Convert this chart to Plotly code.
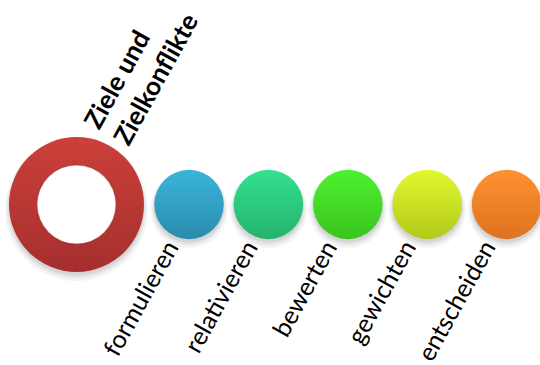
import plotly.graph_objects as go

# ---- data ----
title_text = "Ziele und<br>Zielkonflikte"
steps = ["formulieren", "relativieren", "bewerten", "gewichten", "entscheiden"]
step_index = [1, 2, 3, 4, 5]
top_colors = ["#3AB5DA", "#33E190", "#4CF22D", "#DFF92B", "#FF922F"]
bottom_colors = ["#2A8BAC", "#25B26D", "#3BC420", "#B3C81D", "#DD7221"]
ring_top, ring_bottom = "#CC403A", "#A52F2E"

# ---- layout constants (pixels / axis units) ----
W, H = 540, 365
ring_x = -0.417
cy = 204.5
d_small = 69.5
d_ring, d_hole = 135, 79
FONT = "Lato, 'Open Sans', sans-serif"
PX = 79.4  # pixels per step

fig = go.Figure()

# soft shadows
for dy, grow, a in [(5, 8, 0.06), (4, 4, 0.08), (3, 1, 0.10)]:
    fig.add_trace(go.Scatter(
        x=[ring_x] + step_index, y=[cy + dy] * (len(step_index) + 1), mode="markers",
        marker=dict(size=[d_ring + grow] + [d_small + grow] * len(step_index),
                    color=f"rgba(0,0,0,{a})", line=dict(width=0)),
        hoverinfo="skip", showlegend=False))

# ring
fig.add_trace(go.Scatter(
    x=[ring_x], y=[cy], mode="markers",
    marker=dict(size=d_ring, color=ring_top, line=dict(width=0),
                gradient=dict(type="vertical", color=ring_bottom)),
    hoverinfo="skip", showlegend=False))
fig.add_trace(go.Scatter(
    x=[ring_x], y=[cy], mode="markers",
    marker=dict(size=d_hole, color="white", line=dict(width=1.5, color="rgba(150,40,40,0.35)")),
    hoverinfo="skip", showlegend=False))

# step circles
fig.add_trace(go.Scatter(
    x=step_index, y=[cy] * len(step_index), mode="markers",
    marker=dict(size=d_small, color=top_colors, line=dict(width=0),
                gradient=dict(type="vertical", color=bottom_colors)),
    hoverinfo="skip", showlegend=False))

annotations = []
for xi, s in zip(step_index, steps):
    annotations.append(dict(
        x=xi - 3 / PX, y=232, xref="x", yref="y", text=s, showarrow=False,
        textangle=-61, xanchor="right", yanchor="top",
        font=dict(family=FONT, size=25, color="black")))

annotations.append(dict(
    x=ring_x + 0.1 - 11 / PX, y=153, xref="x", yref="y", text=f"<b>{title_text}</b>", showarrow=False,
    textangle=-61, xanchor="left", yanchor="bottom", align="left",
    font=dict(family=FONT, size=26, color="black")))

x0 = 1 - 189 / PX
x1 = 1 + (W - 189) / PX
fig.update_layout(
    width=W, height=H, margin=dict(l=0, r=0, t=0, b=0),
    paper_bgcolor="white", plot_bgcolor="white",
    xaxis=dict(range=[x0, x1], visible=False, fixedrange=True),
    yaxis=dict(range=[H, 0], visible=False, fixedrange=True),
    annotations=annotations, showlegend=False)

fig.write_html("out.html", config={"displayModeBar": False},
               post_script="document.body.style.margin='0';document.body.style.overflow='hidden';")
